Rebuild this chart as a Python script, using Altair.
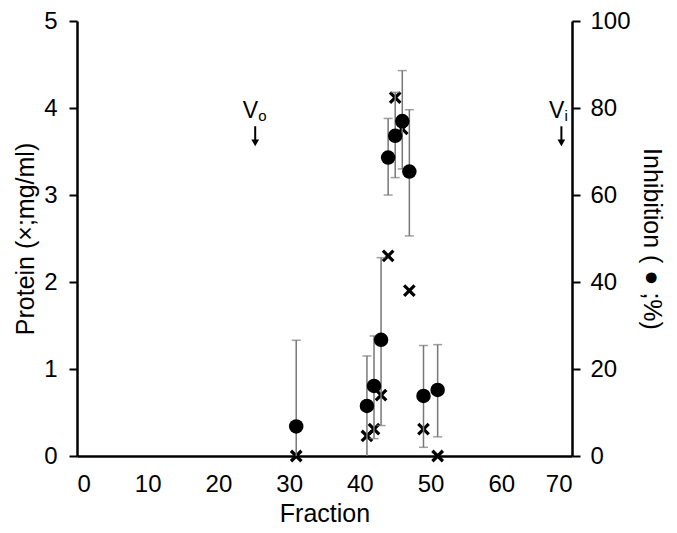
import altair as alt
import pandas as pd

# ---- data ----
fractions = [31, 41, 42, 43, 44, 45, 46, 47, 49, 51]
protein = [0.0, 0.23, 0.31, 0.70, 2.30, 4.12, 3.76, 1.90, 0.31, 0.0]
inhibition = [6.8, 11.5, 16.1, 26.7, 68.6, 73.6, 77.0, 65.4, 13.8, 15.2]
inhib_low = [0.0, 0.0, 4.0, 7.0, 60.0, 64.0, 66.0, 50.6, 2.0, 4.4]
inhib_high = [26.6, 23.0, 27.6, 45.6, 77.6, 83.6, 88.6, 79.6, 25.4, 25.6]

marker_fraction = [25.2, 68.5]
marker_sub = ["o", "i"]
marker_label_y = [3.97, 3.97]
arrow_top = [3.79, 3.79]
arrow_tip = [3.60, 3.60]

df = pd.DataFrame({
    "fraction": fractions,
    "protein": protein,
    "inhibition": inhibition,
    "low": inhib_low,
    "high": inhib_high,
})
mk = pd.DataFrame({
    "fraction": marker_fraction,
    "sub": marker_sub,
    "ly": marker_label_y,
    "top": arrow_top,
    "tip": arrow_tip,
    "V": ["V", "V"],
})

FONT = "Liberation Sans"
xscale = alt.Scale(domain=[0, 70], nice=False, zero=False)
xaxis = alt.Axis(title="Fraction", values=list(range(0, 71, 10)), ticks=False,
                 labelPadding=16, titlePadding=5, grid=False)
pscale = alt.Scale(domain=[0, 5], nice=False)
iscale = alt.Scale(domain=[0, 100], nice=False)
paxis = alt.Axis(title="Protein (×;mg/ml)", orient="left",
                 values=[0, 1, 2, 3, 4, 5], grid=False,
                 labelPadding=12, titlePadding=5)
iaxis = alt.Axis(title="Inhibition ( ● ;%)", orient="right",
                 values=[0, 20, 40, 60, 80, 100], grid=False, titleAngle=90,
                 labelPadding=10, titlePadding=8)


def X():
    return alt.X("fraction:Q", scale=xscale, axis=xaxis)


def PY(field):
    return alt.Y(f"{field}:Q", scale=pscale, axis=paxis)


def IY(field):
    return alt.Y(f"{field}:Q", scale=iscale, axis=iaxis)


crosses = alt.Chart(df).mark_point(shape="M -1 -1 L 1 1 M -1 1 L 1 -1",
                                   filled=False, color="black", strokeWidth=3.2,
                                   size=110, opacity=1).encode(
    x=X(), y=PY("protein"),
)

vtext = alt.Chart(mk).mark_text(font=FONT, fontSize=23, color="black",
                                align="right", baseline="middle", dx=3).encode(
    x=X(), y=PY("ly"), text="V:N",
)
subtext = alt.Chart(mk).mark_text(font=FONT, fontSize=15, color="black",
                                  align="left", baseline="middle", dx=3, dy=5).encode(
    x=X(), y=PY("ly"), text="sub:N",
)
shaft = alt.Chart(mk).mark_rule(color="black", strokeWidth=2).encode(
    x=X(), y=PY("top"), y2="tip:Q",
)
head = alt.Chart(mk).mark_point(shape="triangle-down", filled=True, color="black",
                                size=60, opacity=1).encode(
    x=X(), y=PY("tip"),
)

left = alt.layer(crosses, vtext, subtext, shaft, head)

bars = alt.Chart(df).mark_rule(color="#777777", strokeWidth=1.5).encode(
    x=X(), y=IY("low"), y2="high:Q",
)
caps_hi = alt.Chart(df).mark_tick(color="#777777", orient="horizontal",
                                  size=9, thickness=1.5).encode(
    x=X(), y=IY("high"),
)
df_low_caps = df[df["low"] > 0]
caps_lo = alt.Chart(df_low_caps).mark_tick(color="#777777", orient="horizontal",
                                           size=9, thickness=1.5).encode(
    x=X(), y=IY("low"),
)
circles = alt.Chart(df).mark_point(shape="circle", filled=True, color="black",
                                   size=210, opacity=1).encode(
    x=X(), y=IY("inhibition"),
)

right = alt.layer(bars, caps_hi, caps_lo, circles)

chart = alt.layer(left, right).resolve_scale(y="independent").properties(
    width=495, height=435,
    autosize=alt.AutoSizeParams(type="none"),
    padding={"left": 69, "top": 13, "right": 97, "bottom": 69},
).configure_view(stroke=None).configure_axis(
    labelFont=FONT, titleFont=FONT, labelFontSize=24, titleFontSize=25,
    labelColor="black", titleColor="black", titleFontWeight="normal",
    domainColor="black", domainWidth=2.5, tickColor="black", tickWidth=2,
    tickSize=8,
)

chart.save("out.html", embed_options={"renderer": "svg", "actions": False})
